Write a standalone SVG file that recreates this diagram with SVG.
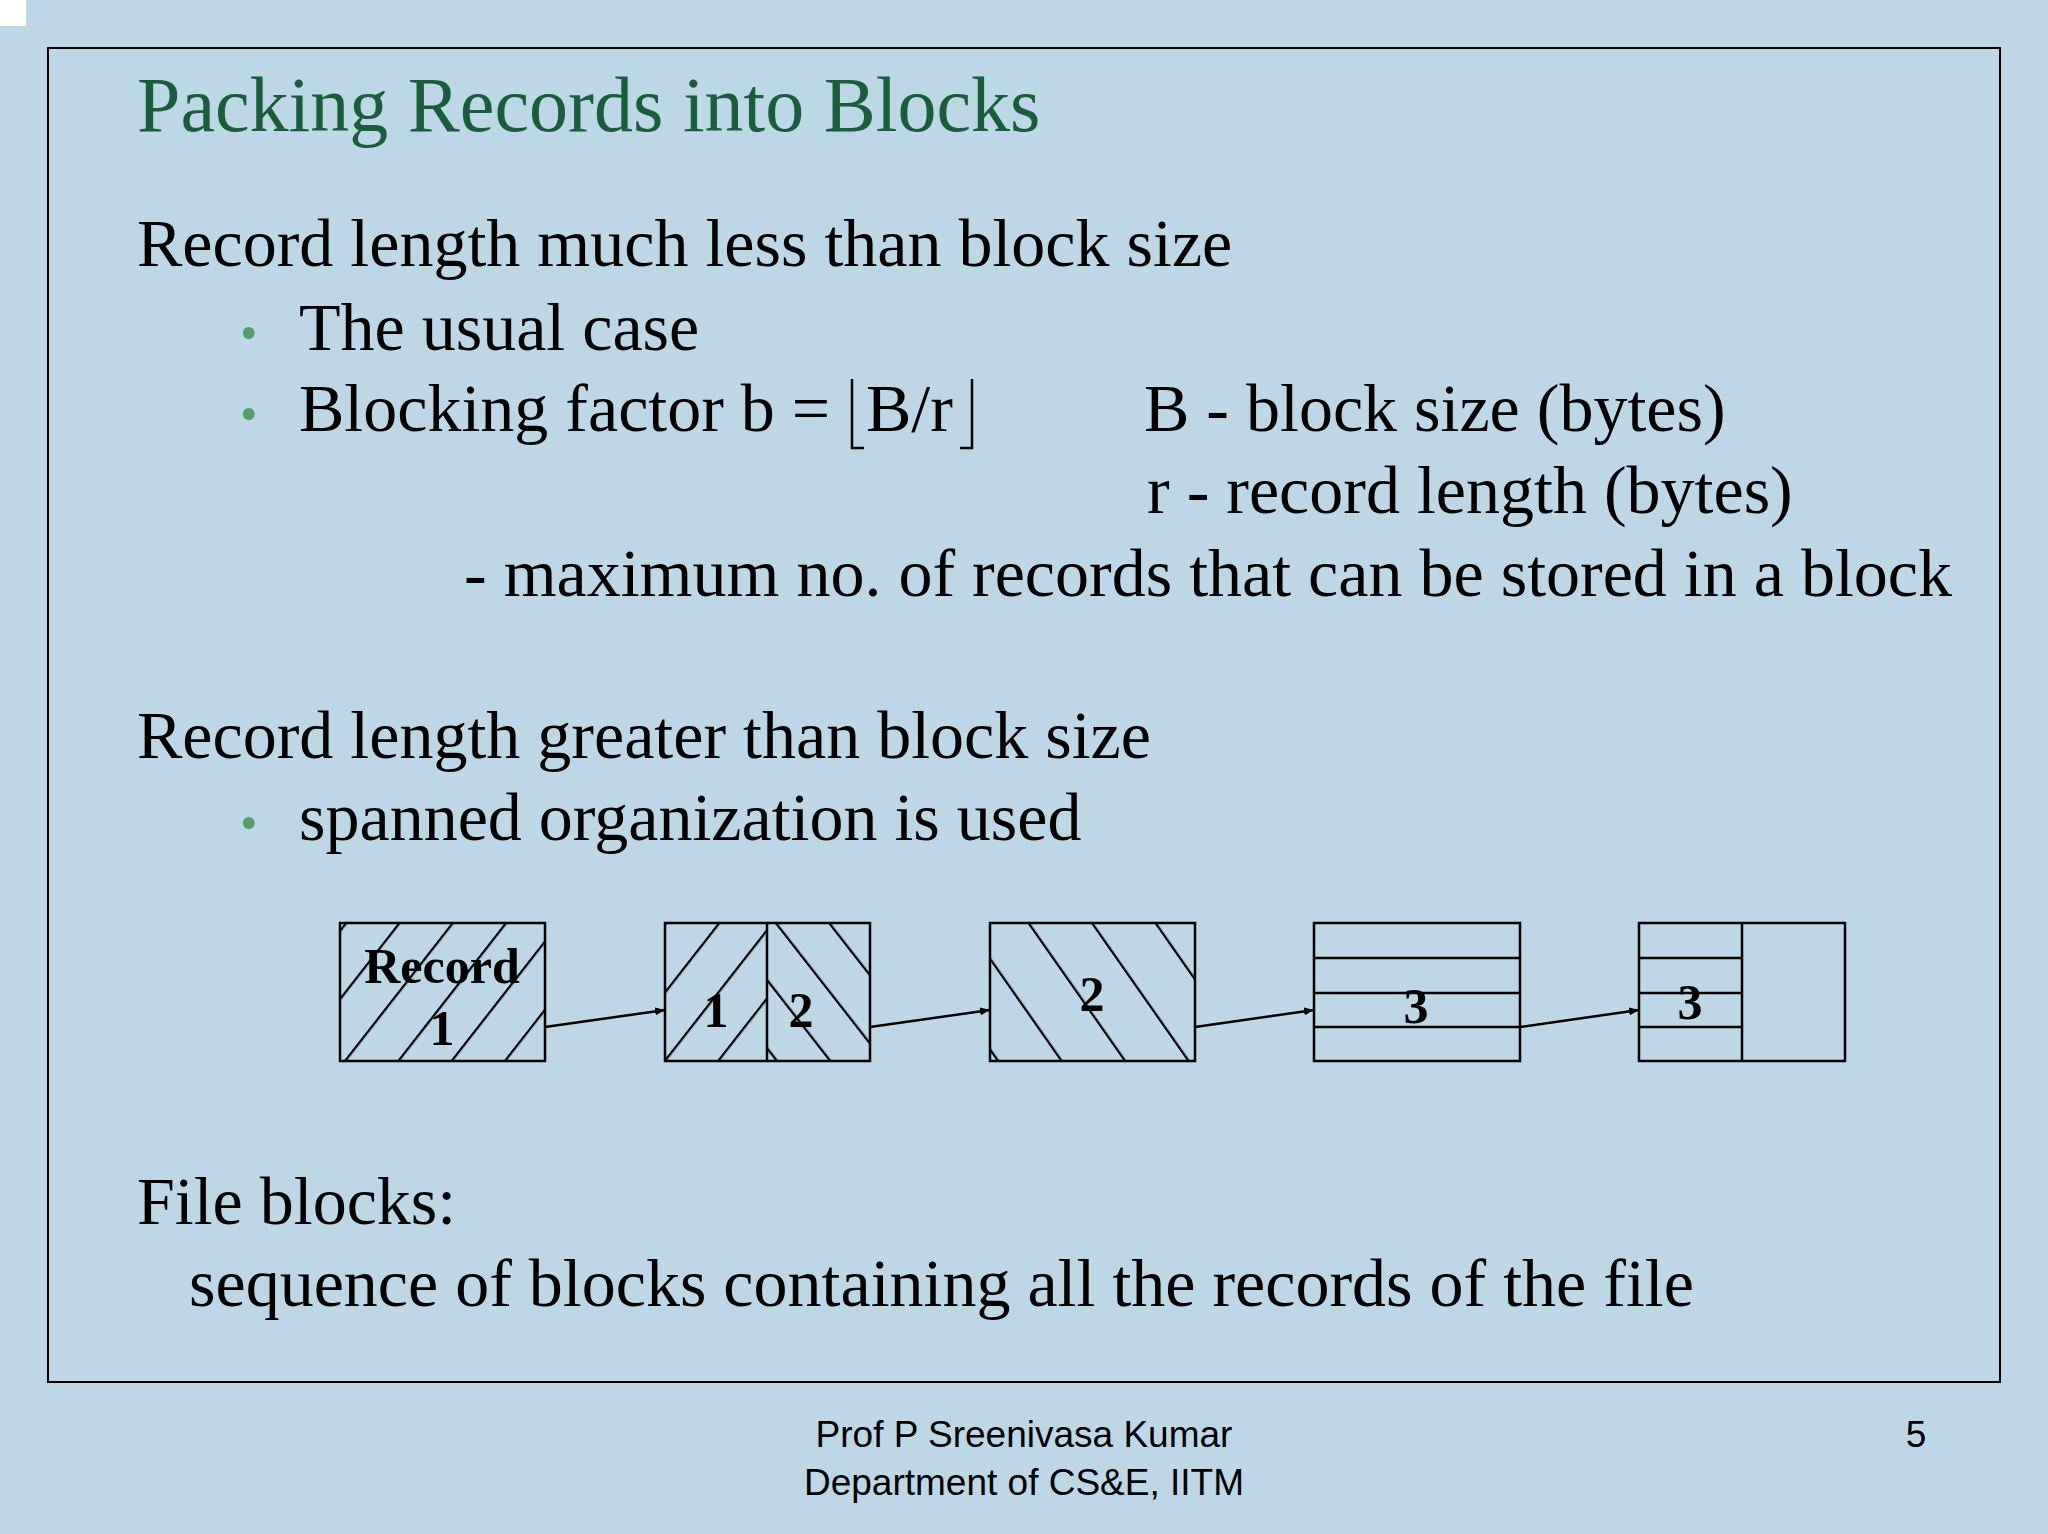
<svg xmlns="http://www.w3.org/2000/svg" width="2048" height="1534" viewBox="0 0 2048 1534">
<style>
.t{font-family:"Liberation Serif",serif;font-size:68px;fill:#000}
.b{font-family:"Liberation Serif",serif;font-size:50px;font-weight:bold;fill:#000}
.bul{fill:#5b9a6e}
.f{font-family:"Liberation Sans",sans-serif;font-size:37px;fill:#000}
.box{fill:none;stroke:#000;stroke-width:2.5}
.ln{stroke:#000;stroke-width:2.5;fill:none}
</style>
<defs>
<pattern id="fw" patternUnits="userSpaceOnUse" width="42" height="200" patternTransform="rotate(38)"><line x1="1" y1="0" x2="1" y2="200" stroke="#000" stroke-width="2.5"/></pattern>
<pattern id="bw" patternUnits="userSpaceOnUse" width="42" height="200" patternTransform="rotate(-38)"><line x1="1" y1="0" x2="1" y2="200" stroke="#000" stroke-width="2.5"/></pattern>
<pattern id="bw2" patternUnits="userSpaceOnUse" width="52" height="200" patternTransform="rotate(-35)"><line x1="1" y1="0" x2="1" y2="200" stroke="#000" stroke-width="2.5"/></pattern>
<marker id="ah" markerWidth="10" markerHeight="8" refX="10" refY="4" orient="auto" markerUnits="userSpaceOnUse" viewBox="0 0 10 8"><path d="M0,0 L10,4 L0,8 z" fill="#000"/></marker>
</defs>
<rect width="2048" height="1534" fill="#bdd7e7"/>
<rect x="0" y="0" width="26" height="26" fill="#fff"/>
<rect x="48" y="48" width="1952" height="1334" fill="none" stroke="#000" stroke-width="2"/>
<text x="137" y="131" style="font-family:'Liberation Serif',serif;font-size:78px;fill:#1a5c3c">Packing Records into Blocks</text>
<text class="t" x="137" y="266">Record length much less than block size</text>
<text class="t bul" x="240" y="350" style="font-size:50px">•</text>
<text class="t" x="299" y="350">The usual case</text>
<text class="t bul" x="240" y="431" style="font-size:50px">•</text>
<text class="t" x="299" y="431">Blocking factor b =</text>
<text class="t" x="866" y="431">B/r</text>
<path class="ln" d="M852,379 V448 H864 M972,379 V448 H960" stroke-width="2"/>
<text class="t" x="1144" y="431">B - block size (bytes)</text>
<text class="t" x="1147" y="513">r - record length (bytes)</text>
<text class="t" x="464" y="596">- maximum no. of records that can be stored in a block</text>
<text class="t" x="137" y="758">Record length greater than block size</text>
<text class="t bul" x="240" y="840" style="font-size:50px">•</text>
<text class="t" x="299" y="840">spanned organization is used</text>
<g id="block1"><rect x="340" y="923" width="205" height="138" fill="url(#fw)"/><rect class="box" x="340" y="923" width="205" height="138"/>
<text class="b" x="442" y="983" text-anchor="middle">Record</text><text class="b" x="442" y="1045" text-anchor="middle">1</text></g>
<g id="block2"><rect x="665" y="923" width="102" height="138" fill="url(#fw)"/><rect x="767" y="923" width="103" height="138" fill="url(#bw)"/>
<rect class="box" x="665" y="923" width="205" height="138"/><line class="ln" x1="767" y1="923" x2="767" y2="1061"/>
<text class="b" x="716" y="1027" text-anchor="middle">1</text><text class="b" x="801" y="1027" text-anchor="middle">2</text></g>
<g id="block3"><rect x="990" y="923" width="205" height="138" fill="url(#bw2)"/><rect class="box" x="990" y="923" width="205" height="138"/>
<text class="b" x="1092" y="1011" text-anchor="middle">2</text></g>
<g id="block4"><rect class="box" x="1314" y="923" width="206" height="138"/><path class="ln" d="M1314,958 H1520 M1314,993 H1520 M1314,1027 H1520"/>
<text class="b" x="1416" y="1023" text-anchor="middle">3</text></g>
<g id="block5"><rect class="box" x="1639" y="923" width="206" height="138"/><path class="ln" d="M1742,923 V1061 M1639,958 H1742 M1639,993 H1742 M1639,1027 H1742"/>
<text class="b" x="1690" y="1019" text-anchor="middle">3</text></g>
<g id="connectors" stroke="#000" stroke-width="2.5" marker-end="url(#ah)">
<line x1="545" y1="1027" x2="665" y2="1010"/>
<line x1="870" y1="1027" x2="990" y2="1010"/>
<line x1="1195" y1="1027" x2="1314" y2="1010"/>
<line x1="1520" y1="1027" x2="1639" y2="1010"/>
</g>
<text class="t" x="137" y="1224">File blocks:</text>
<text class="t" x="189" y="1306">sequence of blocks containing all the records of the file</text>
<text class="f" x="1024" y="1447" text-anchor="middle">Prof P Sreenivasa Kumar</text>
<text class="f" x="1024" y="1495" text-anchor="middle">Department of CS&amp;E, IITM</text>
<text class="f" x="1916" y="1447" text-anchor="middle">5</text>
</svg>
